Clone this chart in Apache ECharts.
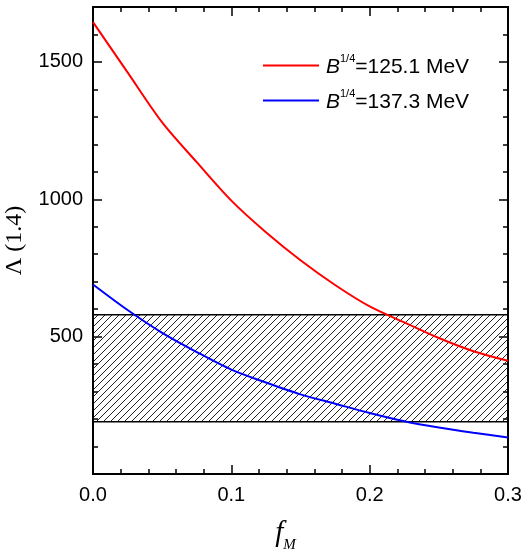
<!DOCTYPE html>
<html>
<head>
<meta charset="utf-8">
<script src="https://cdn.jsdelivr.net/npm/echarts@6/dist/echarts.min.js"></script>
<style>html,body{margin:0;padding:0;background:#fff}#c{width:524px;height:550px}</style>
</head>
<body>
<div id="c"></div>
<script>
// ---- data ----
const fM = [0, 0.025, 0.05, 0.075, 0.1, 0.125, 0.15, 0.175, 0.2, 0.225, 0.25, 0.275, 0.3];
const lambdaB125 = [1645, 1462, 1280, 1135, 995, 880, 778, 688, 610, 552, 495, 447, 412];
const lambdaB137 = [690, 597, 514, 444, 380, 333, 290, 256, 222, 192, 169, 150, 133];
const bagValues = ['125.1', '137.3'];
const band = [190, 580];
const xTicks = [0, 0.1, 0.2, 0.3];
const yTicks = [500, 1000, 1500];

const chart = echarts.init(document.getElementById('c'));

// hatch pattern
const pc = document.createElement('canvas');
pc.width = 7; pc.height = 7;
const g = pc.getContext('2d');
g.strokeStyle = '#222'; g.lineWidth = 1;
g.beginPath();
g.moveTo(-1, 8); g.lineTo(8, -1);
g.moveTo(-1, 1); g.lineTo(1, -1);
g.moveTo(6, 8); g.lineTo(8, 6);
g.stroke();

const sans = 'Liberation Sans, Arial, sans-serif';
const serif = 'Liberation Serif, Times New Roman, serif';
const lineBlack = { color: '#000', width: 2 };

function xAx(pos, labels) {
  return {
    type: 'value', min: 0, max: 0.3, interval: 0.1, position: pos,
    axisLine: { show: true, onZero: false, lineStyle: lineBlack },
    axisTick: { show: true, inside: true, length: 9, lineStyle: { color: '#000', width: 1.5 } },
    minorTick: { show: true, splitNumber: 5, length: 5, lineStyle: { color: '#000', width: 1.5 } },
    splitLine: { show: false }, minorSplitLine: { show: false },
    axisLabel: labels ? {
      show: true, fontSize: 20, color: '#000', fontFamily: sans, margin: 11,
      formatter: v => xTicks.some(t => Math.abs(t - v) < 1e-9) ? v.toFixed(1) : ''
    } : { show: false },
    name: labels ? '{f|f}{m|M}' : '', nameLocation: 'middle', nameGap: 45,
    nameTextStyle: {
      padding: [0, 30, 0, 0],
      rich: {
        f: { fontFamily: serif, fontStyle: 'italic', fontSize: 29, color: '#000', padding: [0, 0, 5, 0], verticalAlign: 'bottom' },
        m: { fontFamily: serif, fontStyle: 'italic', fontSize: 15, color: '#000', verticalAlign: 'bottom' }
      }
    }
  };
}
function yAx(pos, interval, tickLen, labels) {
  return {
    type: 'value', min: 0, max: 1700, interval: interval, position: pos,
    axisLine: { show: true, onZero: false, lineStyle: lineBlack },
    axisTick: { show: true, inside: true, length: tickLen, lineStyle: { color: '#000', width: 1.5 } },
    splitLine: { show: false },
    axisLabel: labels ? {
      show: true, fontSize: 20, color: '#000', fontFamily: sans, margin: 10,
      formatter: v => yTicks.indexOf(v) >= 0 ? String(v) : ''
    } : { show: false },
    name: labels ? 'Λ (1.4)' : '', nameLocation: 'middle', nameRotate: 90, nameGap: 66,
    nameTextStyle: { fontFamily: serif, fontSize: 24, color: '#000' }
  };
}

const pts = arr => fM.map((x, i) => [x, arr[i]]);

chart.setOption({
  animation: false,
  backgroundColor: '#fff',
  grid: { left: 93, right: 16, top: 7, bottom: 76, containLabel: false, outerBoundsMode: 'none' },
  xAxis: [xAx('bottom', true), xAx('top', false)],
  yAxis: [
    yAx('left', 500, 9, true),
    yAx('left', 100, 5, false),
    yAx('right', 500, 9, false),
    yAx('right', 100, 5, false)
  ],
  legend: {
    data: bagValues, orient: 'vertical', left: 263, top: 53, padding: 0,
    itemWidth: 56, itemHeight: 14, itemGap: 10,
    icon: 'path://M0,6 L56,6 L56,8 L0,8 Z',
    formatter: name => '{b|B}{s|1/4}{t|=' + name + ' MeV}',
    textStyle: {
      padding: [0, 0, 0, 2],
      rich: {
        b: { fontFamily: sans, fontStyle: 'italic', fontSize: 21, color: '#000', verticalAlign: 'bottom', lineHeight: 24 },
        s: { fontFamily: sans, fontSize: 11, color: '#000', padding: [0, 0, 14, 0], verticalAlign: 'bottom' },
        t: { fontFamily: sans, fontSize: 21, color: '#000', verticalAlign: 'bottom', lineHeight: 24 }
      }
    }
  },
  series: [
    {
      name: 'band', type: 'line', data: [], z: 1, silent: true,
      markArea: {
        silent: true,
        label: { show: false },
        itemStyle: { color: { image: pc, repeat: 'repeat' }, borderColor: '#000', borderWidth: 1.5, opacity: 1 },
        data: [[{ yAxis: band[0] }, { yAxis: band[1] }]]
      }
    },
    {
      name: bagValues[0], type: 'line', data: pts(lambdaB125), smooth: 0.3,
      symbol: 'none', z: 5, color: '#ff0000', lineStyle: { color: '#ff0000', width: 2 }
    },
    {
      name: bagValues[1], type: 'line', data: pts(lambdaB137), smooth: 0.3,
      symbol: 'none', z: 5, color: '#0000ff', lineStyle: { color: '#0000ff', width: 2 }
    }
  ]
});
</script>
</body>
</html>
